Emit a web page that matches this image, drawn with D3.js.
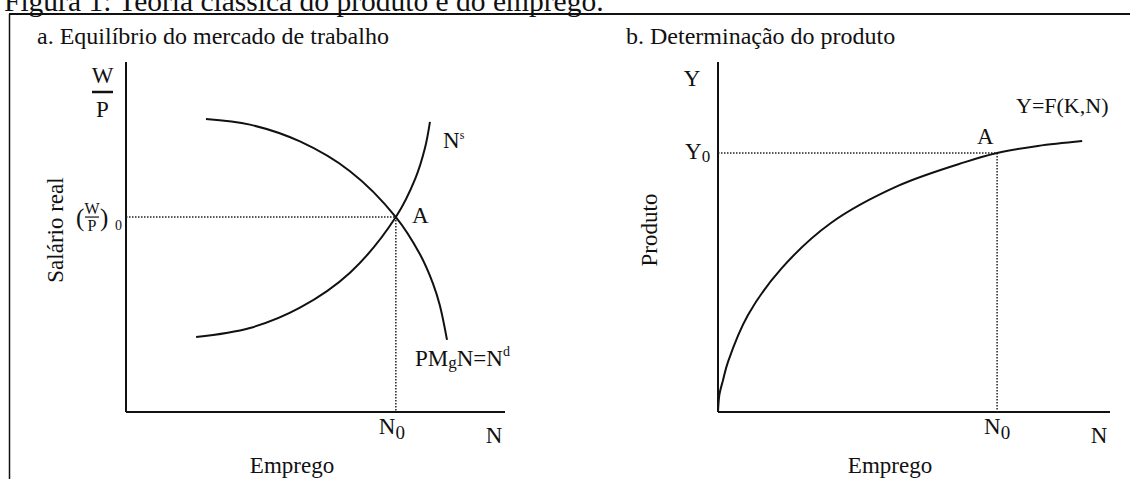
<!DOCTYPE html>
<meta charset="utf-8">
<script src="https://d3js.org/d3.v7.min.js"></script>
<style>
  body { margin: 0; background: #fff; }
  text { font-family: "Liberation Serif", "Times New Roman", serif; fill: #111; }
</style>
<svg id="chart" width="1130" height="479"></svg>
<script>
  // ---- data (both panels on a 0..100 scale) ----
  var demandN = [21.1, 32.7, 45.9, 59.1, 71.2, 77.6, 81.0, 82.8, 84.7];
  var demandW = [83.7, 82.1, 77.3, 68.8, 55.7, 45.0, 36.7, 30.5, 20.6];
  var supplyN = [18.5, 32.7, 45.9, 59.1, 71.2, 76.3, 78.9, 80.2];
  var supplyW = [21.4, 24.0, 29.8, 39.8, 55.7, 66.6, 75.5, 82.9];
  var prodN   = [0, 0.38, 1.28, 2.55, 7.65, 16.1, 28.8, 45.9, 63.0, 71.2, 81.6, 92.9];
  var prodY   = [0, 5.1, 9.1, 14.3, 27.7, 40.9, 54.0, 64.6, 71.4, 74.0, 76.0, 77.4];
  var eqN = 71.2, eqW = 55.7, eqY = 74.0;

  var svg = d3.select("#chart");

  // frame + figure caption (cut at the top)
  svg.append("text").attr("x", 4).attr("y", 11).style("font-size", "29.5px")
    .text("Figura 1: Teoria clássica do produto e do emprego.");
  svg.append("line").attr("x1", 9).attr("x2", 1130).attr("y1", 14).attr("y2", 14)
    .attr("stroke", "#111").attr("stroke-width", 2);
  svg.append("line").attr("x1", 9.5).attr("x2", 9.5).attr("y1", 14).attr("y2", 479)
    .attr("stroke", "#111").attr("stroke-width", 1.5);

  function lineOf(xs, ys, x, y) {
    return d3.line().curve(d3.curveCatmullRom.alpha(0.5))
      .x(function(d){ return x(d[0]); })
      .y(function(d){ return y(d[1]); })(d3.zip(xs, ys));
  }

  function axes(g, x, y) {
    g.append("line").attr("x1", x(0)).attr("x2", x(0)).attr("y1", y(100)).attr("y2", y(0))
      .attr("stroke", "#111").attr("stroke-width", 2);
    g.append("line").attr("x1", x(0)).attr("x2", x(100)).attr("y1", y(0)).attr("y2", y(0))
      .attr("stroke", "#111").attr("stroke-width", 2);
  }

  function dotted(g, x1, y1, x2, y2) {
    g.append("line").attr("x1", x1).attr("y1", y1).attr("x2", x2).attr("y2", y2)
      .attr("stroke", "#222").attr("stroke-width", 1.5).attr("stroke-dasharray", "1.5,1.5");
  }

  // ---------------- panel a ----------------
  var xa = d3.scaleLinear().domain([0, 100]).range([126, 505]);
  var ya = d3.scaleLinear().domain([0, 100]).range([412, 62]);
  var ga = svg.append("g");

  ga.append("text").attr("x", 37).attr("y", 44).style("font-size", "24px")
    .text("a. Equilíbrio do mercado de trabalho");

  axes(ga, xa, ya);
  dotted(ga, xa(0), ya(eqW), xa(eqN), ya(eqW));
  dotted(ga, xa(eqN), ya(eqW), xa(eqN), ya(0));

  ga.append("path").attr("d", lineOf(demandN, demandW, xa, ya))
    .attr("fill", "none").attr("stroke", "#111").attr("stroke-width", 2);
  ga.append("path").attr("d", lineOf(supplyN, supplyW, xa, ya))
    .attr("fill", "none").attr("stroke", "#111").attr("stroke-width", 2);

  // W/P axis label
  ga.append("text").attr("x", 102.5).attr("y", 83).attr("text-anchor", "middle")
    .style("font-size", "23px").text("W");
  ga.append("line").attr("x1", 92).attr("x2", 113).attr("y1", 92).attr("y2", 92)
    .attr("stroke", "#111").attr("stroke-width", 2.5);
  ga.append("text").attr("x", 102.5).attr("y", 117).attr("text-anchor", "middle")
    .style("font-size", "23px").text("P");

  // (W/P)0
  var wy = ya(eqW);
  ga.append("text").attr("x", 76).attr("y", wy + 9).style("font-size", "25px").text("(");
  ga.append("text").attr("x", 92).attr("y", wy - 3).attr("text-anchor", "middle")
    .style("font-size", "16px").text("W");
  ga.append("line").attr("x1", 85).attr("x2", 99).attr("y1", wy).attr("y2", wy)
    .attr("stroke", "#111").attr("stroke-width", 1.2);
  ga.append("text").attr("x", 92).attr("y", wy + 14).attr("text-anchor", "middle")
    .style("font-size", "16px").text("P");
  ga.append("text").attr("x", 100).attr("y", wy + 9).style("font-size", "25px").text(")");
  ga.append("text").attr("x", 115).attr("y", wy + 13).style("font-size", "14px").text("0");

  ga.append("text").attr("transform", "translate(63,230) rotate(-90)")
    .attr("text-anchor", "middle").style("font-size", "23px").text("Salário real");

  var ns = ga.append("text").attr("x", 443).attr("y", 148).style("font-size", "23px");
  ns.append("tspan").text("N");
  ns.append("tspan").attr("dy", -9).style("font-size", "12px").text("s");

  ga.append("text").attr("x", 412).attr("y", 223).style("font-size", "23px").text("A");

  var nd = ga.append("text").attr("x", 415).attr("y", 366).style("font-size", "23px");
  nd.append("tspan").text("PM");
  nd.append("tspan").attr("dy", 2).style("font-size", "17px").text("g");
  nd.append("tspan").attr("dy", -2).text("N=N");
  nd.append("tspan").attr("dy", -10).style("font-size", "14px").text("d");

  var n0a = ga.append("text").attr("x", xa(eqN) - 4).attr("y", 434)
    .attr("text-anchor", "middle").style("font-size", "23px");
  n0a.append("tspan").text("N");
  n0a.append("tspan").attr("dy", 5).style("font-size", "19px").text("0");

  ga.append("text").attr("x", 494).attr("y", 443).attr("text-anchor", "middle")
    .style("font-size", "23px").text("N");
  ga.append("text").attr("x", 292).attr("y", 473).attr("text-anchor", "middle")
    .style("font-size", "23px").text("Emprego");

  // ---------------- panel b ----------------
  var xb = d3.scaleLinear().domain([0, 100]).range([718, 1110]);
  var yb = d3.scaleLinear().domain([0, 100]).range([412, 62]);
  var gb = svg.append("g");

  gb.append("text").attr("x", 626).attr("y", 44).style("font-size", "24px")
    .text("b. Determinação do produto");

  axes(gb, xb, yb);
  dotted(gb, xb(0), yb(eqY), xb(eqN), yb(eqY));
  dotted(gb, xb(eqN), yb(eqY), xb(eqN), yb(0));

  gb.append("path").attr("d", lineOf(prodN, prodY, xb, yb))
    .attr("fill", "none").attr("stroke", "#111").attr("stroke-width", 2);

  gb.append("text").attr("x", 692).attr("y", 86).attr("text-anchor", "middle")
    .style("font-size", "23px").text("Y");
  var y0 = gb.append("text").attr("x", 685).attr("y", 159).style("font-size", "23px");
  y0.append("tspan").text("Y");
  y0.append("tspan").attr("dy", 3).style("font-size", "17px").text("0");

  gb.append("text").attr("transform", "translate(657,230) rotate(-90)")
    .attr("text-anchor", "middle").style("font-size", "23px").text("Produto");

  gb.append("text").attr("x", 1016).attr("y", 113).style("font-size", "22px").text("Y=F(K,N)");
  gb.append("text").attr("x", 977).attr("y", 144).style("font-size", "23px").text("A");

  var n0b = gb.append("text").attr("x", xb(eqN)).attr("y", 434)
    .attr("text-anchor", "middle").style("font-size", "23px");
  n0b.append("tspan").text("N");
  n0b.append("tspan").attr("dy", 5).style("font-size", "19px").text("0");

  gb.append("text").attr("x", 1099).attr("y", 443).attr("text-anchor", "middle")
    .style("font-size", "23px").text("N");
  gb.append("text").attr("x", 890).attr("y", 473).attr("text-anchor", "middle")
    .style("font-size", "23px").text("Emprego");
</script>
